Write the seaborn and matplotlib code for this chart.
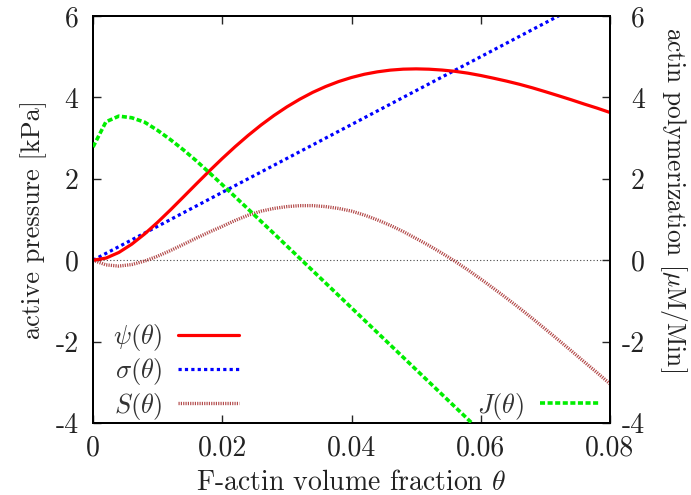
import numpy as np
import pandas as pd
import matplotlib
matplotlib.use("Agg")
import matplotlib.pyplot as plt
import seaborn as sns

# F-actin volume fraction grid
theta = [0.000, 0.002, 0.004, 0.006, 0.008, 0.010, 0.012, 0.014, 0.016, 0.018,
         0.020, 0.022, 0.024, 0.026, 0.028, 0.030, 0.032, 0.034, 0.036, 0.038,
         0.040, 0.042, 0.044, 0.046, 0.048, 0.050, 0.052, 0.054, 0.056, 0.058,
         0.060, 0.062, 0.064, 0.066, 0.068, 0.070, 0.072, 0.074, 0.076, 0.078,
         0.080]

# active pressure psi(theta) [kPa]
psi = [0.000, 0.051, 0.190, 0.394, 0.646, 0.932, 1.238, 1.556, 1.876, 2.192,
       2.498, 2.790, 3.065, 3.321, 3.555, 3.767, 3.956, 4.124, 4.267, 4.389,
       4.489, 4.569, 4.628, 4.670, 4.694, 4.701, 4.693, 4.672, 4.641, 4.596,
       4.538, 4.471, 4.400, 4.322, 4.235, 4.140, 4.042, 3.942, 3.837, 3.737,
       3.629]

# sigma(theta)
sigma = [0.000, 0.167, 0.333, 0.500, 0.667, 0.833, 1.000, 1.167, 1.333, 1.500,
         1.667, 1.833, 2.000, 2.167, 2.333, 2.500, 2.667, 2.833, 3.000, 3.167,
         3.333, 3.500, 3.667, 3.833, 4.000, 4.167, 4.333, 4.500, 4.667, 4.833,
         5.000, 5.167, 5.333, 5.500, 5.667, 5.833, 6.000, 6.167, 6.333, 6.500,
         6.667]

# S(theta)
S = [0.000, -0.115, -0.144, -0.107, -0.021, 0.098, 0.238, 0.389, 0.543, 0.692,
     0.831, 0.977, 1.105, 1.204, 1.272, 1.317, 1.340, 1.341, 1.317, 1.272,
     1.206, 1.109, 0.991, 0.856, 0.704, 0.534, 0.360, 0.172, -0.025, -0.238,
     -0.462, -0.695, -0.933, -1.178, -1.432, -1.693, -1.958, -2.225, -2.496, -2.763,
     -3.038]

# actin polymerization J(theta) [uM/Min]
theta_J = theta[:31]
J = [2.78, 3.40, 3.54, 3.50, 3.39, 3.19, 2.96, 2.71, 2.44, 2.15,
     1.856, 1.557, 1.257, 0.955, 0.654, 0.350, 0.046, -0.258, -0.562, -0.866,
     -1.170, -1.474, -1.778, -2.082, -2.386, -2.690, -2.994, -3.298, -3.602, -3.906,
     -4.210]

xticks = [0, 0.02, 0.04, 0.06, 0.08]
xticklabels = ["0", "0.02", "0.04", "0.06", "0.08"]
yticks = [-4, -2, 0, 2, 4, 6]
yticklabels = ["-4", "-2", "0", "2", "4", "6"]

sns.set_theme(style="ticks")
plt.rcParams.update({
    "font.family": "serif",
    "font.serif": ["cmr10"],
    "mathtext.fontset": "cm",
    "axes.unicode_minus": False,
    "axes.formatter.use_mathtext": True,
})

FS = 20       # tick labels and x label
FS_Y = 19     # left y label
FS_Y2 = 18.3  # right y label
FS_LEG = 19   # keys
TXT = "#222222"

fig = plt.figure(figsize=(6.91, 4.95), dpi=100)
ax = fig.add_axes([93 / 691, 1 - 423 / 495, (610 - 93) / 691, (423 - 16) / 495])
ax2 = ax.twinx()

df = pd.DataFrame({"theta": theta, "psi": psi, "sigma": sigma, "S": S})
dfJ = pd.DataFrame({"theta": theta_J, "J": J})

# zero reference line
ax.axhline(0, color="#444444", lw=0.8, linestyle=(0, (1, 2)), zorder=1)

sns.lineplot(data=df, x="theta", y="psi", ax=ax, color="#ff0000", lw=2.3,
             label=r"$\psi(\theta)$", zorder=4)
sns.lineplot(data=df, x="theta", y="sigma", ax=ax, color="#0000ff", lw=2.3,
             linestyle=(0, (1, 1)), label=r"$\sigma(\theta)$", zorder=3)
sns.lineplot(data=df, x="theta", y="S", ax=ax, color="#a52a2a", lw=2.4,
             linestyle=(0, (0.35, 0.35)), alpha=0.85, label=r"$S(\theta)$", zorder=3)
sns.lineplot(data=dfJ, x="theta", y="J", ax=ax2, color="#00ee00", lw=2.6,
             linestyle=(0, (1.4, 0.7)), label=r"$J(\theta)$", zorder=3)

for a in (ax, ax2):
    a.set_xlim(0, 0.08)
    a.set_ylim(-4, 6)
    for sp in a.spines.values():
        sp.set_linewidth(1.4)
        sp.set_color("black")

ax.set_xticks(xticks)
ax.set_xticklabels(xticklabels, fontsize=FS, color=TXT)
ax.set_yticks(yticks)
ax.set_yticklabels(yticklabels, fontsize=FS, color=TXT)
ax2.set_yticks(yticks)
ax2.set_yticklabels(yticklabels, fontsize=FS, color=TXT, ha="right")

ax.tick_params(axis="both", which="major", direction="in", length=5.5, width=1.0,
               top=True, right=False)
ax.tick_params(axis="x", pad=9)
ax.tick_params(axis="y", pad=10.5)
ax2.tick_params(axis="y", direction="in", length=5.5, width=1.0, pad=25)

ax.set_xlabel(r"F-actin volume fraction $\theta$", fontsize=FS, color=TXT, labelpad=5.5)
ax.set_ylabel("active pressure [kPa]", fontsize=FS_Y, color=TXT, labelpad=6)
ax2.set_ylabel(r"actin polymerization [$\mu$M/Min]", fontsize=FS_Y2, color=TXT,
               rotation=270, va="bottom", ha="center")
ax2.yaxis.set_label_coords(1.093, 0.548)

leg = ax.legend(loc="lower left", bbox_to_anchor=(0.003, -0.042), frameon=False,
                markerfirst=False, fontsize=FS_LEG, handlelength=2.3, handletextpad=0.6,
                labelspacing=0.13, borderaxespad=0.3)
for t in leg.get_texts():
    t.set_color("#333333")
leg2 = ax2.legend(loc="lower right", bbox_to_anchor=(1.017, -0.042), frameon=False,
                  markerfirst=False, fontsize=FS_LEG, handlelength=2.3, handletextpad=0.6,
                  borderaxespad=0.3)
for t in leg2.get_texts():
    t.set_color("#333333")

fig.savefig("out.png", dpi=100)
